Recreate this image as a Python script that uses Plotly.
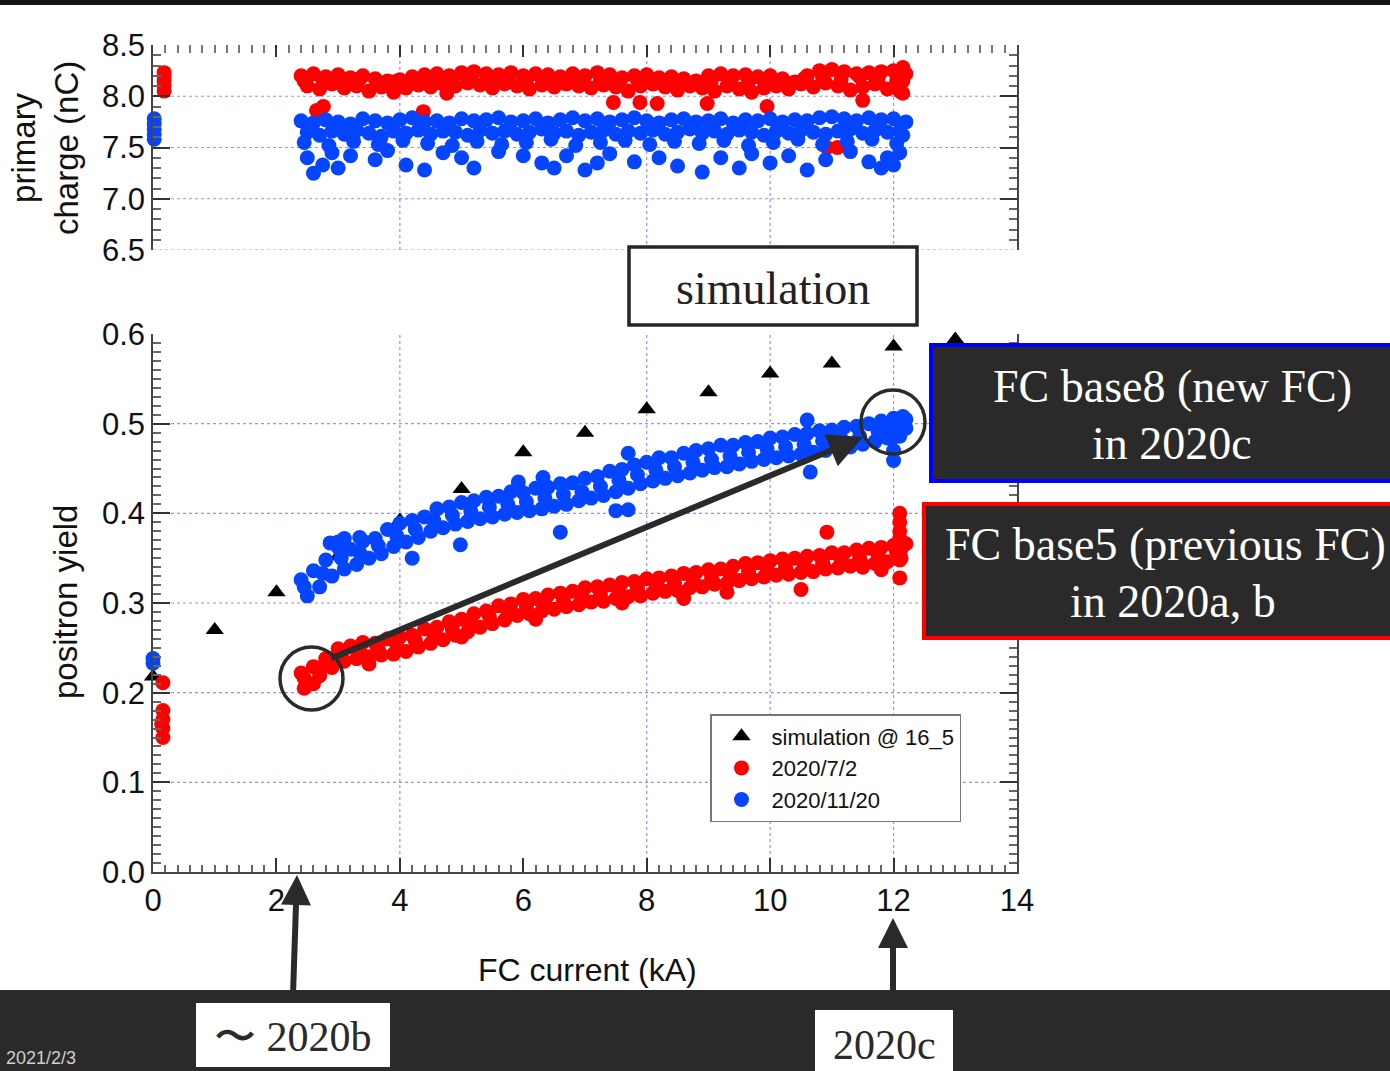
import plotly.graph_objects as go

W, H = 1390, 1071

# ---------------- data ----------------
sim_x = [0, 1, 2, 3, 4, 5, 6, 7, 8, 9, 10, 11, 12, 13]
sim_y = [0.218, 0.270, 0.312, 0.352, 0.392, 0.427, 0.468, 0.490, 0.516, 0.535, 0.556, 0.567, 0.586, 0.594]

# positron yield, 2020/7/2 (red)
red_x = [0.16, 0.16, 0.16, 0.16, 0.16, 0.14,
         2.4, 2.6, 2.8, 3.0, 3.2, 3.4, 3.6, 3.8, 4.0, 4.2, 4.4, 4.6, 4.8, 5.0, 5.2, 5.4, 5.6, 5.8, 6.0, 6.2, 6.4, 6.6, 6.8, 7.0,
         7.2, 7.4, 7.6, 7.8, 8.0, 8.2, 8.4, 8.6, 8.8, 9.0, 9.2, 9.4, 9.6, 9.8, 10.0, 10.2, 10.4, 10.6, 10.8, 11.0, 11.2, 11.4, 11.6,
         11.8, 12.0, 12.2,
         2.5, 2.7, 2.9, 3.1, 3.3, 3.5, 3.7, 3.9, 4.1, 4.3, 4.5, 4.7, 4.9, 5.1, 5.3, 5.5, 5.7, 5.9, 6.1, 6.3, 6.5, 6.7, 6.9, 7.1,
         7.3, 7.5, 7.7, 7.9, 8.1, 8.3, 8.5, 8.7, 8.9, 9.1, 9.3, 9.5, 9.7, 9.9, 10.1, 10.3, 10.5, 10.7, 10.9, 11.1, 11.3, 11.5,
         11.7, 11.9, 12.1,
         2.45, 2.75, 3.05, 3.35, 3.65, 3.95, 4.25, 4.55, 4.85, 5.15, 5.45, 5.75, 6.05, 6.35, 6.65, 6.95, 7.25, 7.55, 7.85, 8.15,
         8.45, 8.75, 9.05, 9.35, 9.65, 9.95, 10.25, 10.55, 10.85, 11.15, 11.45, 11.75, 12.05,
         12.1, 12.1, 12.1, 12.1, 12.1, 12.12, 12.12, 10.92, 10.5, 9.3, 8.6, 7.6, 6.2, 5.0, 3.5, 2.45, 2.6, 11.5, 11.8]
red_y = [0.211, 0.180, 0.170, 0.160, 0.150, 0.165,
         0.222, 0.229, 0.238, 0.249, 0.252, 0.256, 0.255, 0.260, 0.262, 0.264, 0.271, 0.273, 0.279, 0.282, 0.288, 0.291, 0.297,
         0.299, 0.304, 0.305, 0.309, 0.311, 0.313, 0.317, 0.318, 0.320, 0.323, 0.324, 0.327, 0.328, 0.330, 0.333, 0.334, 0.337,
         0.338, 0.341, 0.344, 0.345, 0.347, 0.349, 0.350, 0.352, 0.353, 0.356, 0.356, 0.359, 0.361, 0.362, 0.364, 0.366,
         0.209, 0.219, 0.228, 0.235, 0.238, 0.240, 0.242, 0.243, 0.246, 0.251, 0.255, 0.259, 0.264, 0.268, 0.273, 0.277, 0.281,
         0.286, 0.288, 0.291, 0.293, 0.296, 0.298, 0.301, 0.302, 0.305, 0.307, 0.308, 0.311, 0.313, 0.314, 0.317, 0.318, 0.321,
         0.322, 0.325, 0.327, 0.329, 0.331, 0.332, 0.334, 0.335, 0.338, 0.339, 0.341, 0.343, 0.344, 0.346, 0.348,
         0.216, 0.229, 0.241, 0.246, 0.249, 0.253, 0.258, 0.265, 0.271, 0.279, 0.285, 0.291, 0.296, 0.300, 0.303, 0.307, 0.311,
         0.314, 0.316, 0.320, 0.322, 0.326, 0.328, 0.332, 0.335, 0.339, 0.340, 0.343, 0.345, 0.348, 0.350, 0.353, 0.356,
         0.400, 0.390, 0.380, 0.372, 0.328, 0.350, 0.360, 0.379, 0.315, 0.312, 0.305, 0.300, 0.282, 0.262, 0.232, 0.205, 0.210,
         0.340, 0.337]

# positron yield, 2020/11/20 (blue)
blue_x = [0.0, 0.0,
          2.4, 2.6, 2.8, 3.0, 3.2, 3.4, 3.6, 3.8, 4.0, 4.2, 4.4, 4.6, 4.8, 5.0, 5.2, 5.4, 5.6, 5.8, 6.0, 6.2, 6.4, 6.6, 6.8, 7.0,
          7.2, 7.4, 7.6, 7.8, 8.0, 8.2, 8.4, 8.6, 8.8, 9.0, 9.2, 9.4, 9.6, 9.8, 10.0, 10.2, 10.4, 10.6, 10.8, 11.0, 11.2, 11.4,
          11.6, 11.8, 12.0, 12.2,
          2.5, 2.7, 2.9, 3.1, 3.3, 3.5, 3.7, 3.9, 4.1, 4.3, 4.5, 4.7, 4.9, 5.1, 5.3, 5.5, 5.7, 5.9, 6.1, 6.3, 6.5, 6.7, 6.9, 7.1,
          7.3, 7.5, 7.7, 7.9, 8.1, 8.3, 8.5, 8.7, 8.9, 9.1, 9.3, 9.5, 9.7, 9.9, 10.1, 10.3, 10.5, 10.7, 10.9, 11.1, 11.3, 11.5,
          11.7, 11.9, 12.1,
          2.45, 2.75, 3.05, 3.35, 3.65, 3.95, 4.25, 4.55, 4.85, 5.15, 5.45, 5.75, 6.05, 6.35, 6.65, 6.95, 7.25, 7.55, 7.85, 8.15,
          8.45, 8.75, 9.05, 9.35, 9.65, 9.95, 10.25, 10.55, 10.85, 11.15, 11.45, 11.75, 12.05,
          3.1, 3.0, 3.35, 2.87, 4.2, 4.98, 6.6, 7.5, 7.7, 10.65, 12.0, 12.0, 5.92, 6.32, 7.7, 10.6,
          11.9, 12.05, 12.1, 12.15, 12.2, 12.0, 11.8]
blue_y = [0.233, 0.238,
          0.326, 0.336, 0.348, 0.362, 0.360, 0.369, 0.372, 0.382, 0.389, 0.392, 0.396, 0.405, 0.407, 0.412, 0.414, 0.418,
          0.419, 0.424, 0.423, 0.428, 0.429, 0.433, 0.434, 0.439, 0.441, 0.447, 0.449, 0.454, 0.457, 0.462, 0.462, 0.467,
          0.470, 0.472, 0.476, 0.476, 0.479, 0.480, 0.484, 0.485, 0.488, 0.489, 0.492, 0.493, 0.496, 0.497, 0.500, 0.503,
          0.506, 0.505,
          0.308, 0.318, 0.330, 0.338, 0.343, 0.350, 0.355, 0.363, 0.368, 0.373, 0.380, 0.384, 0.388, 0.391, 0.394, 0.396,
          0.399, 0.401, 0.403, 0.405, 0.408, 0.410, 0.414, 0.417, 0.420, 0.424, 0.428, 0.433, 0.436, 0.439, 0.442, 0.445,
          0.448, 0.451, 0.452, 0.455, 0.458, 0.460, 0.462, 0.464, 0.466, 0.468, 0.470, 0.472, 0.474, 0.477, 0.480, 0.484,
          0.486,
          0.318, 0.333, 0.350, 0.356, 0.364, 0.375, 0.382, 0.392, 0.398, 0.402, 0.407, 0.410, 0.413, 0.417, 0.421, 0.424,
          0.430, 0.437, 0.443, 0.448, 0.452, 0.457, 0.460, 0.464, 0.468, 0.472, 0.474, 0.477, 0.481, 0.483, 0.486, 0.491,
          0.495,
          0.372, 0.368, 0.373, 0.367, 0.350, 0.365, 0.379, 0.403, 0.404, 0.446, 0.459, 0.470, 0.435, 0.440, 0.467, 0.504,
          0.497, 0.490, 0.500, 0.508, 0.495, 0.485, 0.490]

# primary charge, 2020/7/2 (red)
q_red_x = [0.18, 0.18, 0.18, 0.18, 0.18,
           2.4, 2.6, 2.8, 3.0, 3.2, 3.4, 3.6, 3.8, 4.0, 4.2, 4.4, 4.6, 4.8, 5.0, 5.2, 5.4, 5.6, 5.8, 6.0, 6.2, 6.4, 6.6, 6.8,
           7.0, 7.2, 7.4, 7.6, 7.8, 8.0, 8.2, 8.4, 8.6, 8.8, 9.0, 9.2, 9.4, 9.6, 9.8, 10.0, 10.2, 10.4, 10.6, 10.8, 11.0, 11.2,
           11.4, 11.6, 11.8, 12.0, 12.2,
           2.5, 2.7, 2.9, 3.1, 3.3, 3.5, 3.7, 3.9, 4.1, 4.3, 4.5, 4.7, 4.9, 5.1, 5.3, 5.5, 5.7, 5.9, 6.1, 6.3, 6.5, 6.7, 6.9,
           7.1, 7.3, 7.5, 7.7, 7.9, 8.1, 8.3, 8.5, 8.7, 8.9, 9.1, 9.3, 9.5, 9.7, 9.9, 10.1, 10.3, 10.5, 10.7, 10.9, 11.1, 11.3,
           11.5, 11.7, 11.9, 12.1,
           2.45, 2.75, 3.05, 3.35, 3.65, 3.95, 4.25, 4.55, 4.85, 5.15, 5.45, 5.75, 6.05, 6.35, 6.65, 6.95, 7.25, 7.55, 7.85,
           8.15, 8.45, 8.75, 9.05, 9.35, 9.65, 9.95, 10.25, 10.55, 10.85, 11.15, 11.45, 11.75, 12.05,
           12.15, 12.15, 12.15, 2.76, 2.65, 4.38, 4.76, 7.46, 7.89, 8.17, 8.98, 9.95, 10.92, 11.09, 11.5, 3.68]
q_red_y = [8.05, 8.10, 8.15, 8.20, 8.23,
           8.20, 8.22, 8.19, 8.21, 8.18, 8.20, 8.17, 8.15, 8.16, 8.19, 8.21, 8.22, 8.20, 8.23, 8.24, 8.22, 8.21, 8.23, 8.20,
           8.22, 8.21, 8.19, 8.22, 8.20, 8.23, 8.21, 8.18, 8.20, 8.21, 8.18, 8.19, 8.17, 8.15, 8.20, 8.22, 8.20, 8.21, 8.19,
           8.20, 8.17, 8.14, 8.20, 8.25, 8.26, 8.24, 8.22, 8.23, 8.24, 8.25, 8.22,
           8.10, 8.07, 8.12, 8.08, 8.10, 8.05, 8.09, 8.04, 8.08, 8.11, 8.09, 8.12, 8.10, 8.13, 8.11, 8.08, 8.12, 8.10, 8.07,
           8.11, 8.09, 8.12, 8.10, 8.08, 8.11, 8.09, 8.05, 8.10, 8.12, 8.09, 8.06, 8.10, 8.08, 8.05, 8.10, 8.07, 8.04, 8.08,
           8.10, 8.07, 8.12, 8.09, 8.13, 8.10, 8.06, 8.09, 8.12, 8.07, 8.05,
           8.15, 8.16, 8.14, 8.17, 8.13, 8.15, 8.16, 8.18, 8.15, 8.17, 8.14, 8.16, 8.15, 8.17, 8.13, 8.16, 8.15, 8.14, 8.16,
           8.13, 8.15, 8.12, 8.16, 8.15, 8.14, 8.16, 8.13, 8.17, 8.18, 8.16, 8.19, 8.17, 8.15,
           8.03, 8.15, 8.28, 7.90, 7.86, 7.85, 8.03, 7.94, 7.94, 7.93, 7.93, 7.90, 7.50, 7.50, 7.96, 7.57]

# primary charge, 2020/11/20 (blue)
q_blue_x = [0.02, 0.02, 0.02, 0.02, 0.02,
            2.4, 2.6, 2.8, 3.0, 3.2, 3.4, 3.6, 3.8, 4.0, 4.2, 4.4, 4.6, 4.8, 5.0, 5.2, 5.4, 5.6, 5.8, 6.0, 6.2, 6.4, 6.6,
            6.8, 7.0, 7.2, 7.4, 7.6, 7.8, 8.0, 8.2, 8.4, 8.6, 8.8, 9.0, 9.2, 9.4, 9.6, 9.8, 10.0, 10.2, 10.4, 10.6, 10.8,
            11.0, 11.2, 11.4, 11.6, 11.8, 12.0, 12.2,
            2.5, 2.7, 2.9, 3.1, 3.3, 3.5, 3.7, 3.9, 4.1, 4.3, 4.5, 4.7, 4.9, 5.1, 5.3, 5.5, 5.7, 5.9, 6.1, 6.3, 6.5, 6.7, 6.9,
            7.1, 7.3, 7.5, 7.7, 7.9, 8.1, 8.3, 8.5, 8.7, 8.9, 9.1, 9.3, 9.5, 9.7, 9.9, 10.1, 10.3, 10.5, 10.7, 10.9, 11.1,
            11.3, 11.5, 11.7, 11.9, 12.1,
            2.45, 2.85, 3.25, 3.65, 4.05, 4.45, 4.85, 5.25, 5.65, 6.05, 6.45, 6.85, 7.25, 7.65, 8.05, 8.45, 8.85, 9.25, 9.65,
            10.05, 10.45, 10.85, 11.25, 11.65, 12.05, 12.15,
            2.5, 2.6, 2.75, 2.9, 3.0, 3.2, 3.6, 3.8, 4.1, 4.4, 4.7, 5.0, 5.2, 5.6, 6.0, 6.3, 6.5, 6.7, 7.0, 7.2, 7.4, 7.8,
            8.2, 8.5, 8.9, 9.2, 9.5, 9.7, 10.0, 10.3, 10.6, 10.9, 11.3, 11.6, 11.8, 11.9, 12.0, 12.1]
q_blue_y = [7.58, 7.63, 7.68, 7.73, 7.78,
            7.76, 7.74, 7.77, 7.75, 7.73, 7.78, 7.76, 7.74, 7.77, 7.79, 7.75, 7.76, 7.74, 7.78, 7.76, 7.77, 7.79, 7.75,
            7.76, 7.78, 7.74, 7.77, 7.79, 7.76, 7.78, 7.75, 7.77, 7.79, 7.76, 7.74, 7.77, 7.78, 7.75, 7.76, 7.78, 7.74,
            7.77, 7.76, 7.78, 7.75, 7.77, 7.76, 7.79, 7.80, 7.78, 7.76, 7.79, 7.77, 7.78, 7.75,
            7.65, 7.62, 7.66, 7.63, 7.67, 7.64, 7.61, 7.66, 7.64, 7.67, 7.63, 7.66, 7.65, 7.62, 7.67, 7.64, 7.66, 7.63,
            7.65, 7.68, 7.64, 7.66, 7.62, 7.65, 7.67, 7.63, 7.66, 7.64, 7.67, 7.63, 7.65, 7.68, 7.64, 7.66, 7.63, 7.67,
            7.65, 7.62, 7.66, 7.64, 7.67, 7.65, 7.63, 7.66, 7.68, 7.64, 7.67, 7.65, 7.66,
            7.55, 7.52, 7.56, 7.53, 7.57, 7.54, 7.52, 7.56, 7.53, 7.55, 7.58, 7.52, 7.55, 7.57, 7.53, 7.56, 7.54, 7.57,
            7.52, 7.55, 7.58, 7.53, 7.56, 7.58, 7.54, 7.62,
            7.40, 7.25, 7.33, 7.45, 7.30, 7.42, 7.38, 7.47, 7.33, 7.28, 7.45, 7.40, 7.30, 7.46, 7.42, 7.35, 7.30, 7.42,
            7.28, 7.35, 7.44, 7.36, 7.40, 7.32, 7.26, 7.40, 7.30, 7.44, 7.35, 7.42, 7.28, 7.38, 7.46, 7.36, 7.30, 7.40,
            7.33, 7.45]

x_ticks = [0, 2, 4, 6, 8, 10, 12, 14]
grid_x = [4, 8, 10, 12]
grid_yield = [0.1, 0.2, 0.3, 0.4, 0.5]
grid_charge = [6.5, 7.0, 7.5, 8.0]

# ---------------- styling helpers ----------------
RED = "#ff0000"
BLUE = "#0645ff"
DARK = "#2a2a2a"
GRID = "rgba(110,110,255,0.75)"
SANS = "Liberation Sans, Arial, sans-serif"
SERIF = "Liberation Serif, Times New Roman, serif"
DOT = 15


def px(xp):
    return xp / W


def py(yp):
    return 1 - yp / H


fig = go.Figure()

fig.add_trace(go.Scatter(x=sim_x, y=sim_y, mode="markers", name="simulation @ 16_5",
                         marker=dict(symbol="triangle-up", size=16, color="black"),
                         cliponaxis=False, xaxis="x", yaxis="y"))
fig.add_trace(go.Scatter(x=red_x, y=red_y, mode="markers", name="2020/7/2",
                         marker=dict(size=DOT, color=RED), cliponaxis=False, xaxis="x", yaxis="y"))
fig.add_trace(go.Scatter(x=blue_x, y=blue_y, mode="markers", name="2020/11/20",
                         marker=dict(size=DOT, color=BLUE), cliponaxis=False, xaxis="x", yaxis="y"))
fig.add_trace(go.Scatter(x=q_red_x, y=q_red_y, mode="markers", showlegend=False,
                         marker=dict(size=DOT, color=RED), cliponaxis=False, xaxis="x2", yaxis="y2"))
fig.add_trace(go.Scatter(x=q_blue_x, y=q_blue_y, mode="markers", showlegend=False,
                         marker=dict(size=DOT, color=BLUE), cliponaxis=False, xaxis="x2", yaxis="y2"))

xdom = [px(153), px(1017)]
axis_common = dict(ticks="inside", tickcolor="#333", tickwidth=1.5, showgrid=False, zeroline=False,
                   automargin=False,
                   tickfont=dict(family=SANS, size=31, color="#111"), linecolor="#444", linewidth=1.5)

fig.update_layout(
    width=W, height=H, margin=dict(l=0, r=0, t=0, b=0, pad=0, autoexpand=False),
    paper_bgcolor="white", plot_bgcolor="white",
    xaxis=dict(domain=xdom, range=[0, 14], anchor="y", tickvals=x_ticks, ticklen=14, showline=True,
               minor=dict(dtick=0.2, ticklen=7, ticks="inside", tickcolor="#666"), **axis_common),
    yaxis=dict(domain=[py(872), py(334)], range=[0, 0.6], anchor="x", dtick=0.1, tickformat=".1f", ticklen=17,
               showline=True, mirror="ticks",
               minor=dict(dtick=0.01, ticklen=8, ticks="inside", tickcolor="#666"), **axis_common),
    xaxis2=dict(domain=xdom, range=[0, 14], anchor="y2", side="top", tickvals=x_ticks, ticklen=12,
                showticklabels=False, showline=False,
                minor=dict(dtick=0.2, ticklen=8, ticks="inside", tickcolor="#777"), **axis_common),
    yaxis2=dict(domain=[py(250), py(45)], range=[6.5, 8.5], anchor="x2", dtick=0.5, tickformat=".1f", ticklen=17,
                showline=True, mirror="ticks",
                minor=dict(dtick=0.1, ticklen=8, ticks="inside", tickcolor="#666"), **axis_common),
    legend=dict(x=px(710), y=py(714), xanchor="left", yanchor="top", bgcolor="white",
                bordercolor="#777", borderwidth=1.5, font=dict(family=SANS, size=22, color="#111"),
                tracegroupgap=0, itemwidth=50),
    showlegend=True,
)

shapes = []
# grid lines
for g in grid_yield:
    shapes.append(dict(type="line", xref="x domain", yref="y", x0=0, x1=1, y0=g, y1=g,
                       line=dict(color=GRID, width=1.2, dash="dot"), layer="below"))
for g in grid_charge:
    shapes.append(dict(type="line", xref="x2 domain", yref="y2", x0=0, x1=1, y0=g, y1=g,
                       line=dict(color=GRID, width=1.2, dash="dot"), layer="below"))
for g in grid_x:
    shapes.append(dict(type="line", xref="x", yref="y domain", x0=g, x1=g, y0=0, y1=1,
                       line=dict(color=GRID, width=1.2, dash="dot"), layer="below"))
    shapes.append(dict(type="line", xref="x2", yref="y2 domain", x0=g, x1=g, y0=0, y1=1,
                       line=dict(color=GRID, width=1.2, dash="dot"), layer="below"))


def rect(x0, y0, x1, y1, fill, line_color, lw):
    return dict(type="rect", xref="paper", yref="paper", x0=px(x0), x1=px(x1), y0=py(y1), y1=py(y0),
                fillcolor=fill, line=dict(color=line_color, width=lw), layer="above")


# slide bars
shapes.append(rect(-5, -5, W + 5, 5, "#141414", "#141414", 0))
shapes.append(rect(-5, 990, W + 5, H + 5, DARK, DARK, 0))
# boxes
shapes.append(rect(629, 247, 917, 325, "white", "#262626", 3.5))
shapes.append(rect(931, 345, W + 20, 481, DARK, "#0000ff", 4))
shapes.append(rect(924, 504, W + 20, 638, DARK, "#ff0000", 4))
shapes.append(rect(196, 1003, 390, 1067, "white", "white", 0))
shapes.append(rect(815, 1010, 953, H + 10, "white", "white", 0))
# circles
shapes.append(dict(type="circle", xref="paper", yref="paper", x0=px(280), x1=px(343), y0=py(710), y1=py(647),
                   line=dict(color=DARK, width=3.5), layer="above"))
shapes.append(dict(type="circle", xref="paper", yref="paper", x0=px(861), x1=px(925), y0=py(454), y1=py(390),
                   line=dict(color=DARK, width=3.5), layer="above"))
fig.update_layout(shapes=shapes)

ann = []


def text(t, x, y, size, family=SANS, color="#111", angle=0, xanchor="center", yanchor="middle"):
    ann.append(dict(text=t, x=px(x), y=py(y), xref="paper", yref="paper", showarrow=False,
                    font=dict(family=family, size=size, color=color), textangle=angle,
                    xanchor=xanchor, yanchor=yanchor))


text("positron yield", 65, 602, 33, angle=-90)
text("primary<br>charge (nC)", 45, 148, 33, angle=-90)
text("FC current (kA)", 587, 970, 32)
text("simulation", 773, 289, 46, family=SERIF, color="#222")
text("FC base8 (new FC)", 1172, 386, 46, family=SERIF, color="white")
text("in 2020c", 1172, 443, 46, family=SERIF, color="white")
text("FC base5 (previous FC)", 943, 544, 46, family=SERIF, color="white", xanchor="left")
text("in 2020a, b", 1173, 601, 46, family=SERIF, color="white")
text("〜 2020b", 293, 1037, 42, family=SERIF, color="#2a2a2a")
text("2020c", 884, 1045, 42, family=SERIF, color="#2a2a2a")
text("2021/2/3", 4, 1046, 18, color="#cfcfcf", xanchor="left", yanchor="top")


def arrow(x_tip, y_tip, x_tail, y_tail, width=6, size=1.0):
    ann.append(dict(text="", x=px(x_tip), y=py(y_tip), xref="paper", yref="paper", showarrow=True,
                    ax=x_tail - x_tip, ay=y_tail - y_tip, axref="pixel", ayref="pixel",
                    arrowhead=2, arrowsize=size, arrowwidth=width, arrowcolor=DARK, standoff=0))


arrow(863, 437, 330, 659, size=1.15)
arrow(297, 875, 293, 995)
arrow(893, 918, 893, 995)

fig.update_layout(annotations=ann)

fig.write_html("out.html")
